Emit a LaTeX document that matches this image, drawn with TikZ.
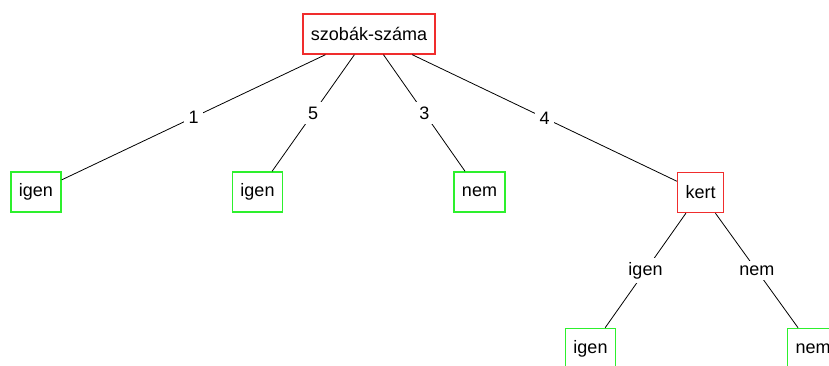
\documentclass[tikz,border=0pt]{standalone}
\usepackage{fontspec}
\setmainfont{Liberation Sans}
\definecolor{boxred}{RGB}{240,45,45}
\definecolor{boxgreen}{RGB}{45,240,45}
\begin{document}
\begin{tikzpicture}[x=1pt,y=-1pt,
  every node/.style={font=\fontsize{18}{21}\selectfont},
  inner/.style={draw=boxred,line width=1.4pt,fill=white,minimum height=40pt,inner xsep=8pt,inner ysep=2pt},
  leaf/.style={draw=boxgreen,line width=1.4pt,fill=white,minimum height=40pt,inner xsep=8pt,inner ysep=2pt},
  edge/.style={draw=black,line width=0.8pt},
  lbl/.style={fill=white,inner sep=4.5pt,midway}]
\clip (0,0) rectangle (829,365);
\fill[white] (0,0) rectangle (829,365);
\node[inner] (root) at (369,34) {szobák-száma};
\node[leaf] (l1) at (36,192) {igen};
\node[leaf] (l2) at (257.5,192) {igen};
\node[leaf] (l3) at (479.5,192) {nem};
\node[inner] (kert) at (700.5,192.5) {kert};
\node[leaf] (l4) at (590.5,348.5) {igen};
\node[leaf] (l5) at (813,348.5) {nem};
\draw[edge] (root) -- node[lbl] {1} (l1);
\draw[edge] (root) -- node[lbl] {5} (l2);
\draw[edge] (root) -- node[lbl] {3} (l3);
\draw[edge] (root) -- node[lbl] {4} (kert);
\draw[edge] (kert) -- node[lbl] {igen} (l4);
\draw[edge] (kert) -- node[lbl] {nem} (l5);
\end{tikzpicture}
\end{document}
